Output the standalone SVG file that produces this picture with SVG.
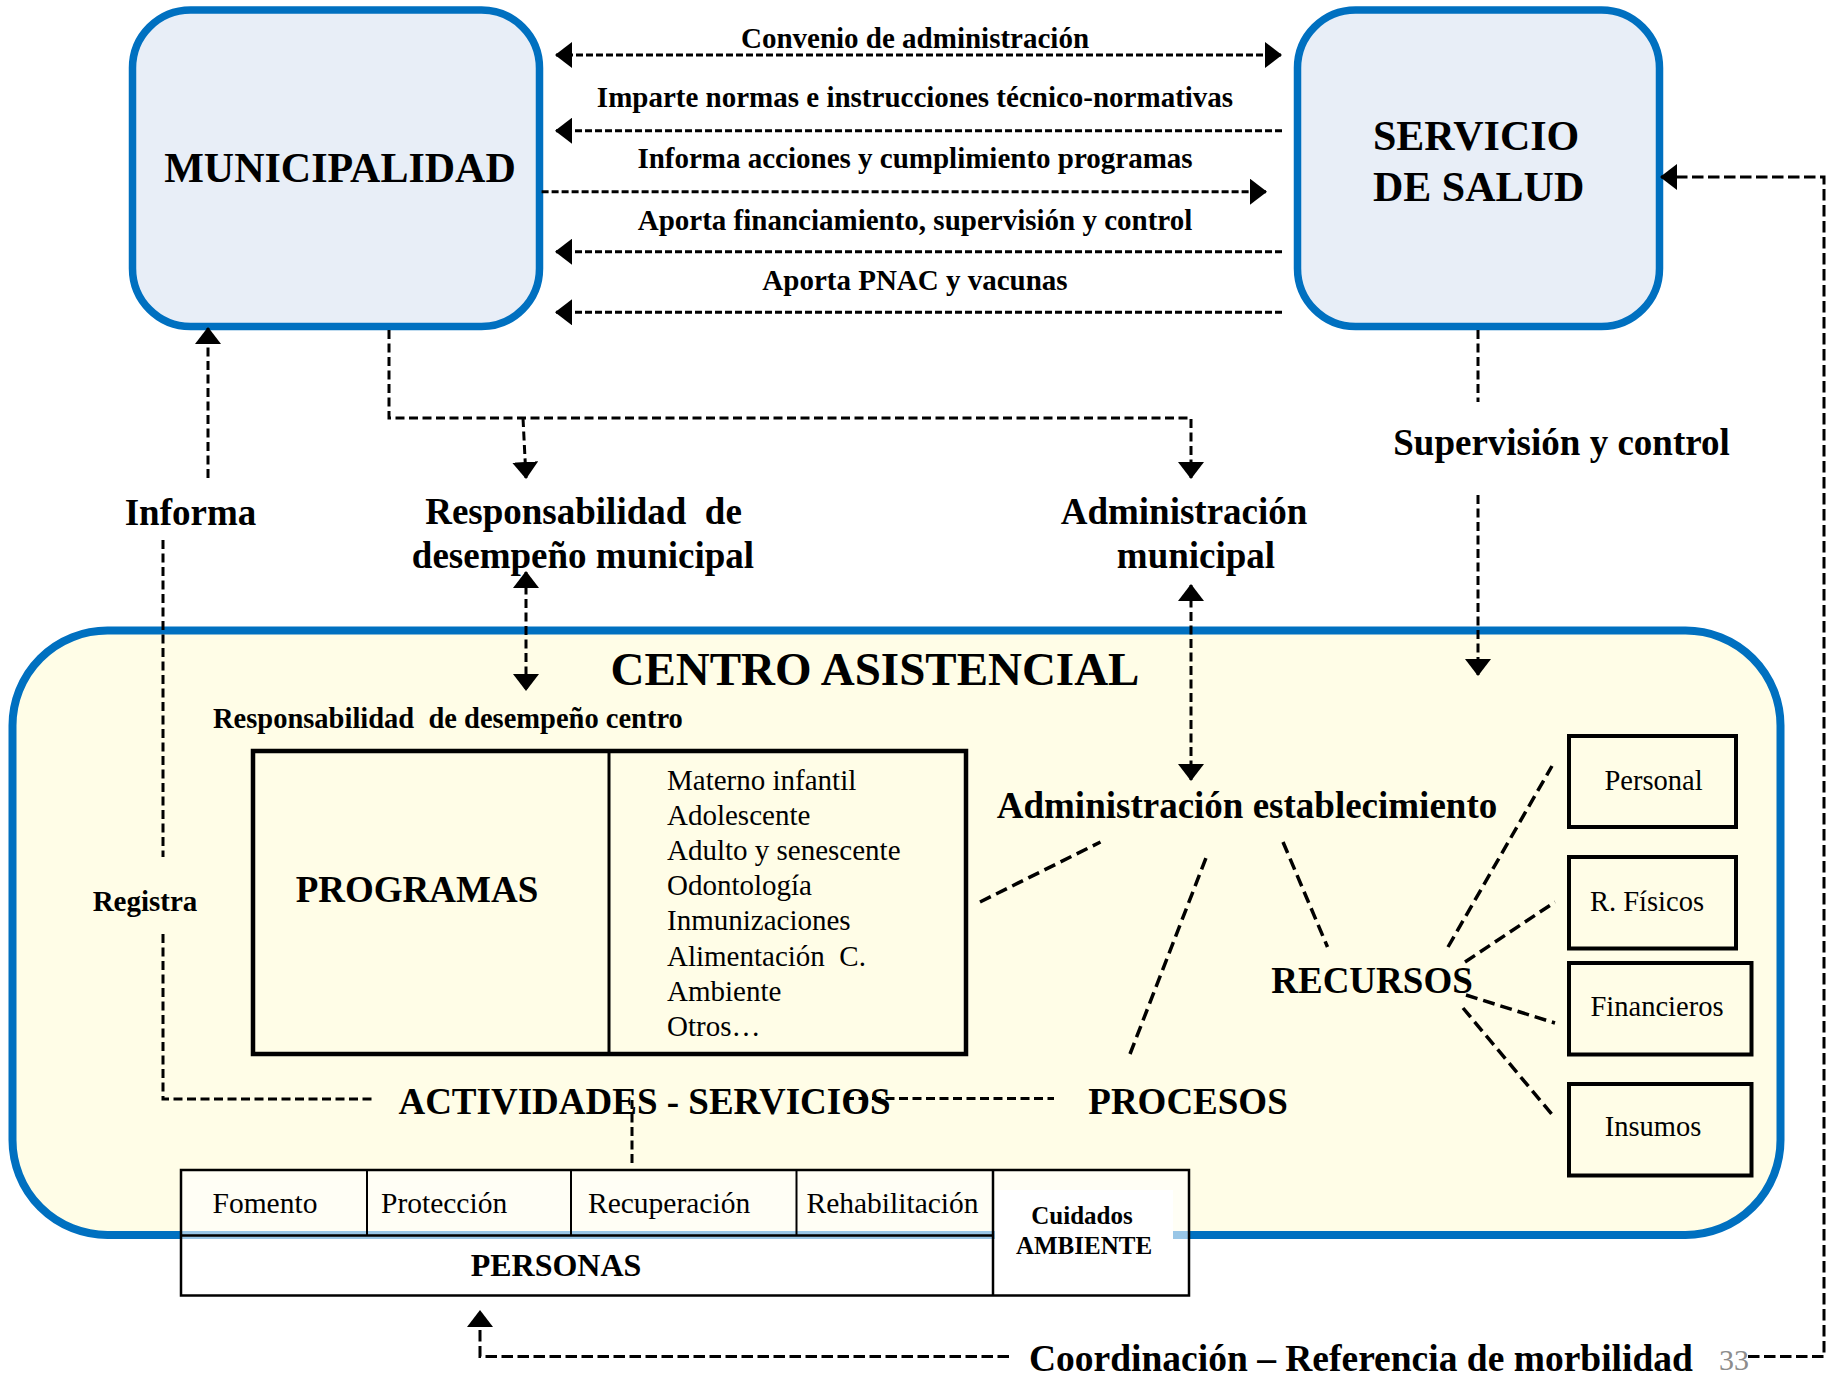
<svg xmlns="http://www.w3.org/2000/svg" width="1826" height="1383" viewBox="0 0 1826 1383">
<style>
text{white-space:pre}
.b{font-family:"Liberation Serif","Times New Roman",serif;font-weight:bold;fill:#000}
.r{font-family:"Liberation Serif","Times New Roman",serif;font-weight:normal;fill:#000}
.m{text-anchor:middle}
.node{fill:#E8EEF7;stroke:#0070C0;stroke-width:7.5}
.box{fill:none;stroke:#000;stroke-width:4}
.c1{fill:none;stroke:#000;stroke-width:3;stroke-dasharray:7 3}
.c2{fill:none;stroke:#000;stroke-width:3;stroke-dasharray:9 4.5}
.c3{fill:none;stroke:#000;stroke-width:3;stroke-dasharray:11.5 4.5}
.c4{fill:none;stroke:#000;stroke-width:3.5;stroke-dasharray:12 6}
</style>
<defs>
<marker id="ah" viewBox="0 0 17 26" markerWidth="17" markerHeight="26" refX="16" refY="13" orient="auto-start-reverse" markerUnits="userSpaceOnUse">
<path d="M0,0 L17,13 L0,26 z" fill="#000" stroke="none"/>
</marker>
</defs>
<rect width="1826" height="1383" fill="#fff"/>

<g id="centro">
<rect x="12.5" y="630.5" width="1768" height="604.5" rx="95" ry="95" fill="#FFFDE7" stroke="#0070C0" stroke-width="8"/>
<text class="b m" x="875" y="685" font-size="47">CENTRO ASISTENCIAL</text>
<text class="b" x="213" y="728" font-size="28.5" xml:space="preserve">Responsabilidad  de desempeño centro</text>
</g>

<g id="municipalidad">
<rect class="node" x="132.5" y="10" width="407" height="316.5" rx="58" ry="58"/>
<text class="b m" x="340" y="182" font-size="42">MUNICIPALIDAD</text>
</g>

<g id="servicio">
<rect class="node" x="1297.5" y="10" width="362" height="316.5" rx="58" ry="58"/>
<text class="b" x="1373" y="150" font-size="42">SERVICIO</text>
<text class="b" x="1373" y="201" font-size="42">DE SALUD</text>
</g>

<g id="programas">
<rect x="253" y="751" width="713" height="303" fill="none" stroke="#000" stroke-width="4.5"/>
<line x1="609" y1="751" x2="609" y2="1054" stroke="#000" stroke-width="3"/>
<text class="b m" x="417" y="902" font-size="37">PROGRAMAS</text>
<g class="r" font-size="29">
<text x="667" y="789.5">Materno infantil</text>
<text x="667" y="824.7">Adolescente</text>
<text x="667" y="859.9">Adulto y senescente</text>
<text x="667" y="895.1">Odontología</text>
<text x="667" y="930.3">Inmunizaciones</text>
<text x="667" y="965.5" xml:space="preserve">Alimentación  C.</text>
<text x="667" y="1000.7">Ambiente</text>
<text x="667" y="1035.9">Otros…</text>
</g>
</g>

<g id="personal">
<rect class="box" x="1569" y="736" width="167" height="91"/>
<text class="r m" x="1653.5" y="790" font-size="28.5">Personal</text>
</g>
<g id="rfisicos">
<rect class="box" x="1569" y="857" width="167" height="91.5"/>
<text class="r m" x="1647" y="911" font-size="28.5">R. Físicos</text>
</g>
<g id="financieros">
<rect class="box" x="1569" y="963" width="182.5" height="91.5"/>
<text class="r m" x="1657" y="1015.6" font-size="28.5">Financieros</text>
</g>
<g id="insumos">
<rect class="box" x="1569" y="1084" width="182.5" height="91.5"/>
<text class="r m" x="1653" y="1136.4" font-size="28.5">Insumos</text>
</g>

<g id="tabla">
<rect x="181" y="1170" width="1008" height="125.5" fill="#fff" fill-opacity="0.6" stroke="none"/>
<rect x="995" y="1190" width="178" height="104" fill="#fff"/>
<rect x="181" y="1170" width="1008" height="125.5" fill="none" stroke="#000" stroke-width="2.5"/>
<line x1="181" y1="1235.5" x2="993" y2="1235.5" stroke="#000" stroke-width="2.5"/>
<line x1="367" y1="1170" x2="367" y2="1235.5" stroke="#000" stroke-width="2"/>
<line x1="571" y1="1170" x2="571" y2="1235.5" stroke="#000" stroke-width="2"/>
<line x1="796.5" y1="1170" x2="796.5" y2="1235.5" stroke="#000" stroke-width="2"/>
<line x1="993" y1="1170" x2="993" y2="1295.5" stroke="#000" stroke-width="2.5"/>
<g class="r" font-size="29.5">
<text x="212.5" y="1212.6">Fomento</text>
<text x="381" y="1212.6">Protección</text>
<text x="588" y="1212.6">Recuperación</text>
<text x="806.5" y="1212.6">Rehabilitación</text>
</g>
<text class="b m" x="556" y="1276" font-size="32">PERSONAS</text>
<text class="b m" x="1082" y="1224" font-size="25">Cuidados</text>
<text class="b m" x="1084" y="1253.5" font-size="25">AMBIENTE</text>
</g>

<g id="labels">
<g class="b m" font-size="29">
<text x="915" y="48">Convenio de administración</text>
<text x="915" y="107">Imparte normas e instrucciones técnico-normativas</text>
<text x="915" y="168">Informa acciones y cumplimiento programas</text>
<text x="915" y="230">Aporta financiamiento, supervisión y control</text>
<text x="915" y="290">Aporta PNAC y vacunas</text>
</g>
<g class="b m" font-size="37">
<text x="190.5" y="525">Informa</text>
<text x="583.5" y="524" xml:space="preserve">Responsabilidad  de</text>
<text x="583" y="568">desempeño municipal</text>
<text x="1184" y="524">Administración</text>
<text x="1196" y="568">municipal</text>
<text x="1561.5" y="455">Supervisión y control</text>
<text x="1247" y="817.5">Administración establecimiento</text>
<text x="1372" y="993">RECURSOS</text>
<text x="1188" y="1114">PROCESOS</text>
<text x="644.5" y="1114">ACTIVIDADES - SERVICIOS</text>
</g>
<text class="b m" x="145" y="911" font-size="29">Registra</text>
<text class="b" x="1029" y="1371" font-size="37.5">Coordinación – Referencia de morbilidad</text>
<text x="1719" y="1370" font-size="30" font-family="Liberation Serif, serif" fill="#8C8C8C">33</text>
</g>

<g id="connectors">
<path class="c1" d="M556,55 H1281" marker-start="url(#ah)" marker-end="url(#ah)"/>
<path class="c1" d="M1282,130.7 H556" marker-end="url(#ah)"/>
<path class="c1" d="M541.6,191.7 H1266" marker-end="url(#ah)"/>
<path class="c1" d="M1282,251.7 H556" marker-end="url(#ah)"/>
<path class="c1" d="M1282,312.3 H556" marker-end="url(#ah)"/>
<path class="c2" d="M389,330 V418 H1191 V478" marker-end="url(#ah)"/>
<path class="c2" d="M523,418 L526,478" marker-end="url(#ah)"/>
<path class="c2" d="M208,478 V328" marker-end="url(#ah)"/>
<path class="c2" d="M163,540 V857"/>
<path class="c2" d="M163,934 V1099 H373"/>
<path class="c2" d="M526,572 V690" marker-start="url(#ah)" marker-end="url(#ah)"/>
<path class="c2" d="M1191,585 V780" marker-start="url(#ah)" marker-end="url(#ah)"/>
<path class="c2" d="M1478,330 V402"/>
<path class="c2" d="M1478,495 V675" marker-end="url(#ah)"/>
<path class="c3" d="M1748,1356.5 H1824 V177 H1661" marker-end="url(#ah)"/>
<path class="c3" d="M1009,1356.5 H480 V1311" marker-end="url(#ah)"/>
<path class="c2" d="M632,1100 V1166"/>
<path class="c2" d="M845,1098.5 H1054"/>
<path class="c4" d="M980,902 L1100.5,842"/>
<path class="c4" d="M1130,1054 L1206,858"/>
<path class="c4" d="M1283,842 L1327.5,947"/>
<path class="c4" d="M1448,947 L1552,766"/>
<path class="c4" d="M1465,962 L1555,902"/>
<path class="c4" d="M1466,995 L1555,1023"/>
<path class="c4" d="M1463,1008 L1555,1118"/>
</g>
</svg>
